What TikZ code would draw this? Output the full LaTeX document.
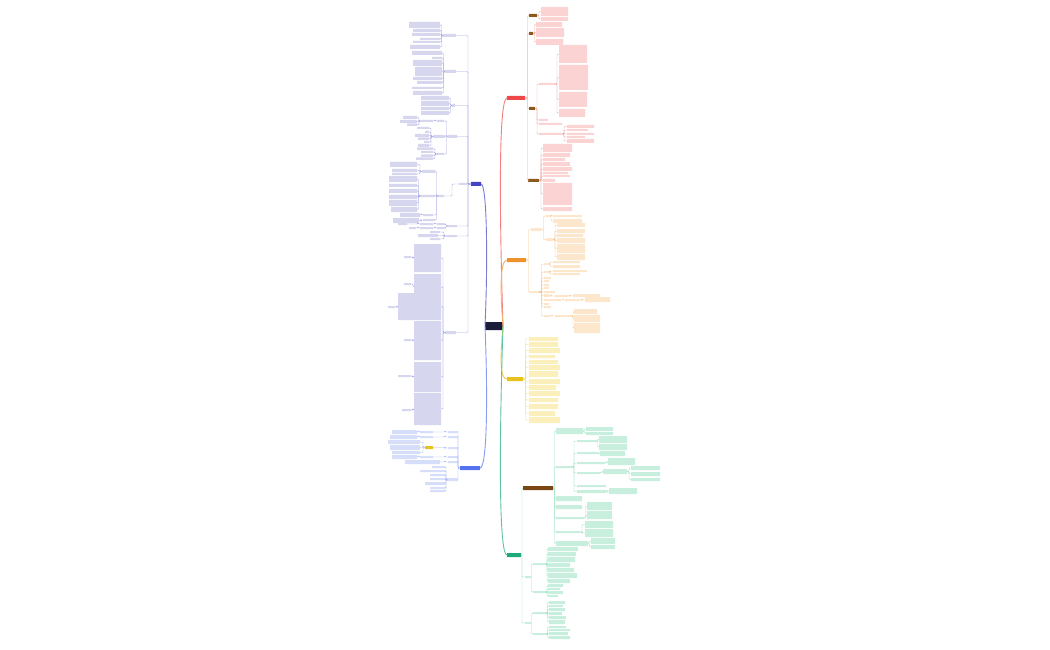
\documentclass[tikz,border=0pt]{standalone}
\usetikzlibrary{backgrounds}
\definecolor{navy}{HTML}{1B1B3A}
\definecolor{redM}{HTML}{F04848}
\definecolor{redL}{HTML}{FBD3D3}
\definecolor{redC}{HTML}{F7A8A8}
\definecolor{brn}{HTML}{8A5A1C}
\definecolor{orM}{HTML}{F0922C}
\definecolor{orL}{HTML}{FCE7CC}
\definecolor{orC}{HTML}{F6C98E}
\definecolor{yeM}{HTML}{E8C21C}
\definecolor{yeL}{HTML}{FBF0BC}
\definecolor{yeC}{HTML}{F2E28A}
\definecolor{tlM}{HTML}{1CAA78}
\definecolor{tlL}{HTML}{C8EEDD}
\definecolor{tlC}{HTML}{A0E2C6}
\definecolor{tbr}{HTML}{7A4614}
\definecolor{puM}{HTML}{4343C4}
\definecolor{puL}{HTML}{D6D6EF}
\definecolor{puC}{HTML}{A8A8E6}
\definecolor{blM}{HTML}{5472F0}
\definecolor{blL}{HTML}{D6DEFA}
\definecolor{blC}{HTML}{A8B8F4}
\tikzset{
  box/.style={rectangle,inner sep=0pt,outer sep=0pt,draw=none,rounded corners=0.4pt},
  rootbox/.style={fill=navy},
  rM/.style={fill=redM}, rL/.style={fill=redL}, bM/.style={fill=brn},
  oM/.style={fill=orM}, oL/.style={fill=orL},
  yM/.style={fill=yeM}, yL/.style={fill=yeL},
  tM/.style={fill=tlM}, tL/.style={fill=tlL}, tB/.style={fill=tbr},
  pM/.style={fill=puM}, pL/.style={fill=puL},
  qM/.style={fill=blM}, qL/.style={fill=blL}, qY/.style={fill=yeM},
  cn/.style={line width=0.45pt,rounded corners=1pt},
  rc/.style={cn,draw=redC}, oc/.style={cn,draw=orC}, yc/.style={cn,draw=yeC},
  tc/.style={cn,draw=tlC}, pc/.style={cn,draw=puC}, qc/.style={cn,draw=blC},
  mainline/.style={line width=0.9pt}
}
\newcommand\bx[6]{\pgfmathsetmacro\bxw{#5-#3}\pgfmathsetmacro\bxh{#6-#4}%
  \node[box,#1,anchor=north west,minimum width=\bxw pt,minimum height=\bxh pt] (#2) at (#3,#4) {};}
\newcommand\conR[4][2.5]{\foreach \c in {#4}{\draw[#2] (#3.east) -- ++(#1,0) |- (\c.west);}}
\newcommand\conL[4][2.5]{\foreach \c in {#4}{\draw[#2] (#3.west) -- ++(-#1,0) |- (\c.east);}}
\begin{document}
\begin{tikzpicture}[x=1pt,y=-1pt]
\useasboundingbox (0,0) rectangle (1050,650);
\fill[white] (0,0) rectangle (1050,650);
% ---------------- root
\bx{rootbox}{root}{485}{322}{503}{330}
% ---------------- RED branch
\bx{rM}{R}{507}{96}{525}{100}
\bx{bM}{R1}{529}{14}{537}{17}
\bx{bM}{R2}{529}{32}{533}{35}
\bx{bM}{R3}{529}{107}{535}{110}
\bx{bM}{R4}{528}{179}{539}{182}
\bx{rL}{R1a}{541}{7}{568}{16}
\bx{rL}{R1b}{541}{17}{568}{21}
\bx{rL}{R2a}{536}{22}{562}{27}
\bx{rL}{R2b}{536}{28}{564}{37}
\bx{rL}{R2c}{536}{39}{563}{45}
\bx{rL}{R3a}{539}{83}{555}{85}
\bx{rL}{R3b}{539}{119}{548}{121}
\bx{rL}{R3c}{539}{123}{562}{125}
\bx{rL}{R3d}{539}{133}{562}{135}
\bx{rL}{R3a1}{559}{45}{587}{63}
\bx{rL}{R3a2}{559}{65}{588}{90}
\bx{rL}{R3a3}{559}{92}{587}{107}
\bx{rL}{R3a4}{559}{109}{585}{117}
\bx{rL}{R3d1}{567}{125}{594}{128}
\bx{rL}{R3d2}{567}{129}{588}{131}
\bx{rL}{R3d3}{567}{133}{594}{135}
\bx{rL}{R3d4}{567}{136}{585}{138}
\bx{rL}{R3d5}{567}{139}{594}{143}
\bx{rL}{R4a}{543}{144}{572}{152}
\bx{rL}{R4b}{543}{153}{570}{157}
\bx{rL}{R4c}{543}{158}{565}{161}
\bx{rL}{R4d}{543}{162}{570}{166}
\bx{rL}{R4e}{543}{167}{572}{171}
\bx{rL}{R4f}{543}{172}{568}{174}
\bx{rL}{R4g}{543}{175}{570}{177}
\bx{rL}{R4h}{543}{179}{555}{182}
\bx{rL}{R4i}{543}{183}{572}{205}
\bx{rL}{R4j}{543}{207}{572}{211}
\conR{rc}{R}{R1,R2,R3,R4}
\conR[2]{rc}{R1}{R1a,R1b}
\conR[1.5]{rc}{R2}{R2a,R2b,R2c}
\conR[2]{rc}{R3}{R3a,R3b,R3c,R3d}
\conR[2]{rc}{R3a}{R3a1,R3a2,R3a3,R3a4}
\conR[2]{rc}{R3d}{R3d1,R3d2,R3d3,R3d4,R3d5}
\conR[2]{rc}{R4}{R4a,R4b,R4c,R4d,R4e,R4f,R4g,R4h,R4i,R4j}
% ---------------- ORANGE branch
\bx{oM}{O}{507}{258}{526}{262}
\bx{oL}{OA}{531}{228}{541}{231}
\bx{oL}{OB}{530}{291}{539}{293}
\bx{oL}{OA1}{546}{215}{549}{217}
\bx{oL}{OA2}{546}{238}{553}{241}
\bx{oL}{OA1a}{553}{215}{582}{217}
\bx{oL}{OA1b}{553}{219}{582}{223}
\bx{oL}{OA2a}{557}{223}{585}{227}
\bx{oL}{OA2b}{557}{229}{585}{233}
\bx{oL}{OA2c}{557}{234}{583}{237}
\bx{oL}{OA2d}{557}{238}{585}{243}
\bx{oL}{OA2e}{557}{244}{585}{253}
\bx{oL}{OA2f}{557}{254}{585}{260}
\bx{oL}{OB1}{544}{263}{548}{265}
\bx{oL}{OB2}{544}{271}{548}{273}
\bx{oL}{OB3}{544}{277}{551}{279}
\bx{oL}{OB4}{544}{280}{549}{282}
\bx{oL}{OB5}{544}{284}{549}{286}
\bx{oL}{OB6}{544}{287}{549}{289}
\bx{oL}{OB7}{544}{291}{555}{293}
\bx{oL}{OB8}{544}{294}{549}{297}
\bx{oL}{OB9}{544}{299}{561}{301}
\bx{oL}{OB10}{544}{303}{549}{305}
\bx{oL}{OB11}{544}{306}{551}{308}
\bx{oL}{OB12}{544}{315}{550}{317}
\bx{oL}{OB1a}{553}{261}{580}{263}
\bx{oL}{OB1b}{553}{265}{580}{268}
\bx{oL}{OB2a}{553}{270}{587}{272}
\bx{oL}{OB2b}{553}{273}{580}{275}
\bx{oL}{OB8a}{555}{295}{568}{297}
\bx{oL}{OB8b}{573}{294}{600}{297}
\bx{oL}{OB9a}{565}{299}{580}{301}
\bx{oL}{OB9b}{585}{297}{610}{302}
\bx{oL}{OB12a}{555}{315}{572}{317}
\bx{oL}{OB12b}{574}{309}{597}{314}
\bx{oL}{OB12c}{574}{315}{600}{322}
\bx{oL}{OB12d}{574}{323}{600}{333}
\conR{oc}{O}{OA,OB}
\conR{oc}{OA}{OA1,OA2}
\conR[2]{oc}{OA1}{OA1a,OA1b}
\conR[2]{oc}{OA2}{OA2a,OA2b,OA2c,OA2d,OA2e,OA2f}
\conR{oc}{OB}{OB1,OB2,OB3,OB4,OB5,OB6,OB7,OB8,OB9,OB10,OB11,OB12}
\conR[2]{oc}{OB1}{OB1a,OB1b}
\conR[2]{oc}{OB2}{OB2a,OB2b}
\conR[2]{oc}{OB8}{OB8a}
\conR[2]{oc}{OB8a}{OB8b}
\conR[2]{oc}{OB9}{OB9a}
\conR[2]{oc}{OB9a}{OB9b}
\conR[2]{oc}{OB12}{OB12a}
\conR[1]{oc}{OB12a}{OB12b,OB12c,OB12d}
% ---------------- YELLOW branch
\bx{yM}{Y}{507}{377}{523}{381}
\bx{yL}{Y1}{529}{337}{558}{341}
\bx{yL}{Y2}{529}{342}{558}{347}
\bx{yL}{Y3}{529}{348}{560}{353}
\bx{yL}{Y4}{529}{355}{555}{358}
\bx{yL}{Y5}{529}{360}{558}{364}
\bx{yL}{Y6}{529}{365}{560}{370}
\bx{yL}{Y7}{529}{371}{558}{377}
\bx{yL}{Y8}{529}{379}{560}{384}
\bx{yL}{Y9}{529}{385}{556}{390}
\bx{yL}{Y10}{529}{391}{560}{396}
\bx{yL}{Y11}{529}{398}{558}{402}
\bx{yL}{Y12}{529}{404}{558}{409}
\bx{yL}{Y13}{529}{411}{555}{416}
\bx{yL}{Y14}{529}{417}{560}{423}
\conR{yc}{Y}{Y1,Y2,Y3,Y4,Y5,Y6,Y7,Y8,Y9,Y10,Y11,Y12,Y13,Y14}
% ---------------- TEAL branch
\bx{tM}{T}{507}{553}{521}{557}
\bx{tB}{T1}{523}{486}{553}{490}
\bx{tL}{T2}{525}{576}{530}{578}
\bx{tL}{T3}{525}{622}{530}{624}
\bx{tL}{Ta}{556}{428}{583}{434}
\bx{tL}{Tb}{556}{466}{572}{468}
\bx{tL}{Tc}{556}{496}{582}{501}
\bx{tL}{Td}{556}{505}{582}{509}
\bx{tL}{Te}{556}{517}{584}{519}
\bx{tL}{Tf}{556}{531}{580}{533}
\bx{tL}{Tg}{556}{541}{588}{546}
\bx{tL}{Ta1}{586}{427}{613}{431}
\bx{tL}{Ta2}{586}{432}{613}{435}
\bx{tL}{Tb1}{577}{440}{596}{442}
\bx{tL}{Tb2}{577}{452}{597}{454}
\bx{tL}{Tb3}{577}{462}{605}{464}
\bx{tL}{Tb4}{577}{472}{600}{474}
\bx{tL}{Tb5}{577}{485}{606}{487}
\bx{tL}{Tb6}{577}{490}{606}{493}
\bx{tL}{Tb1a}{599}{436}{627}{443}
\bx{tL}{Tb1b}{599}{444}{627}{450}
\bx{tL}{Tb2a}{600}{451}{625}{456}
\bx{tL}{Tb3a}{608}{458}{635}{465}
\bx{tL}{Tb4a}{603}{469}{627}{474}
\bx{tL}{Tb4b}{631}{466}{660}{470}
\bx{tL}{Tb4c}{631}{472}{660}{476}
\bx{tL}{Tb4d}{631}{478}{660}{481}
\bx{tL}{Tb6a}{609}{488}{637}{494}
\bx{tL}{Te1}{587}{502}{612}{510}
\bx{tL}{Te2}{587}{511}{612}{519}
\bx{tL}{Tf1}{585}{521}{613}{528}
\bx{tL}{Tf2}{585}{529}{613}{537}
\bx{tL}{Tg1}{591}{538}{615}{544}
\bx{tL}{Tg2}{591}{545}{615}{549}
\bx{tL}{T2a}{533}{563}{546}{565}
\bx{tL}{T2b}{533}{591}{546}{593}
\bx{tL}{T2a1}{548}{547}{578}{551}
\bx{tL}{T2a2}{548}{552}{576}{556}
\bx{tL}{T2a3}{548}{557}{575}{562}
\bx{tL}{T2a4}{548}{563}{570}{567}
\bx{tL}{T2a5}{548}{568}{574}{572}
\bx{tL}{T2a6}{548}{573}{577}{578}
\bx{tL}{T2a7}{548}{579}{570}{583}
\bx{tL}{T2b1}{548}{584}{563}{587}
\bx{tL}{T2b2}{548}{588}{560}{590}
\bx{tL}{T2b3}{548}{591}{563}{594}
\bx{tL}{T2b4}{548}{595}{558}{597}
\bx{tL}{T3a}{533}{612}{546}{614}
\bx{tL}{T3b}{533}{633}{546}{635}
\bx{tL}{T3a1}{549}{601}{565}{604}
\bx{tL}{T3a2}{549}{605}{563}{607}
\bx{tL}{T3a3}{549}{608}{565}{611}
\bx{tL}{T3a4}{549}{612}{562}{615}
\bx{tL}{T3a5}{549}{616}{566}{619}
\bx{tL}{T3a6}{549}{620}{565}{624}
\bx{tL}{T3b1}{549}{626}{566}{628}
\bx{tL}{T3b2}{549}{629}{570}{631}
\bx{tL}{T3b3}{549}{632}{568}{635}
\bx{tL}{T3b4}{549}{636}{570}{639}
\conR[1]{tc}{T}{T1,T2,T3}
\conR[1.5]{tc}{T1}{Ta,Tb,Tc,Td,Te,Tf,Tg}
\conR[1.5]{tc}{Ta}{Ta1,Ta2}
\conR[2]{tc}{Tb}{Tb1,Tb2,Tb3,Tb4,Tb5,Tb6}
\conR[1.5]{tc}{Tb1}{Tb1a,Tb1b}
\conR[1.5]{tc}{Tb2}{Tb2a}
\conR[1.5]{tc}{Tb3}{Tb3a}
\conR[1.5]{tc}{Tb4}{Tb4a}
\conR[2]{tc}{Tb4a}{Tb4b,Tb4c,Tb4d}
\conR[1.5]{tc}{Tb6}{Tb6a}
\conR[1.5]{tc}{Te}{Te1,Te2}
\conR[2]{tc}{Tf}{Tf1,Tf2}
\conR[1.5]{tc}{Tg}{Tg1,Tg2}
\conR[1.5]{tc}{T2}{T2a,T2b}
\conR[1]{tc}{T2a}{T2a1,T2a2,T2a3,T2a4,T2a5,T2a6,T2a7}
\conR[1]{tc}{T2b}{T2b1,T2b2,T2b3,T2b4}
\conR[1.5]{tc}{T3}{T3a,T3b}
\conR[1.5]{tc}{T3a}{T3a1,T3a2,T3a3,T3a4,T3a5,T3a6}
\conR[1.5]{tc}{T3b}{T3b1,T3b2,T3b3,T3b4}
% ---------------- PURPLE branch (left)
\bx{pM}{P}{471}{182}{481}{186}
\bx{pL}{P1}{443}{34}{456}{37}
\bx{pL}{P2}{445}{70}{456}{73}
\bx{pL}{P3}{452}{104}{455}{107}
\bx{pL}{P4}{448}{135}{457}{138}
\bx{pL}{P5}{459}{183}{467}{185}
\bx{pL}{P6}{447}{225}{457}{227}
\bx{pL}{P7}{447}{235}{457}{237}
\bx{pL}{P8}{445}{331}{456}{334}
\bx{pL}{P1a}{409}{22}{440}{28}
\bx{pL}{P1b}{413}{29}{440}{32}
\bx{pL}{P1c}{412}{33}{440}{36}
\bx{pL}{P1d}{420}{38}{440}{40}
\bx{pL}{P1e}{413}{41}{440}{43}
\bx{pL}{P1f}{410}{45}{440}{49}
\bx{pL}{P2a}{412}{51}{442}{55}
\bx{pL}{P2b}{432}{57}{442}{59}
\bx{pL}{P2c}{413}{60}{442}{66}
\bx{pL}{P2d}{415}{67}{442}{76}
\bx{pL}{P2e}{413}{77}{442}{80}
\bx{pL}{P2f}{417}{81}{442}{84}
\bx{pL}{P2g}{412}{87}{442}{89}
\bx{pL}{P2h}{413}{91}{442}{95}
\bx{pL}{P3a}{421}{96}{449}{100}
\bx{pL}{P3b}{421}{101}{449}{106}
\bx{pL}{P3c}{421}{107}{449}{110}
\bx{pL}{P3d}{421}{111}{449}{115}
\bx{pL}{P4a}{437}{120}{444}{122}
\bx{pL}{P4b}{433}{135}{445}{138}
\bx{pL}{P4c}{437}{153}{444}{155}
\bx{pL}{P4a0}{421}{120}{433}{122}
\bx{pL}{P4a1}{403}{116}{417}{119}
\bx{pL}{P4a2}{400}{120}{417}{123}
\bx{pL}{P4a3}{407}{123.5}{417}{126}
\bx{pL}{P4b1}{417}{127}{429}{129}
\bx{pL}{P4b2}{425}{131}{429}{133}
\bx{pL}{P4b3}{415}{134}{429}{137}
\bx{pL}{P4b4}{418}{137.5}{429}{140}
\bx{pL}{P4b5}{424}{141}{429}{143}
\bx{pL}{P4b6}{418}{144}{429}{147}
\bx{pL}{P4c1}{417}{147.5}{433}{150}
\bx{pL}{P4c2}{421}{151}{433}{153}
\bx{pL}{P4c3}{421}{154.5}{433}{157}
\bx{pL}{P4c4}{416}{157.5}{433}{160}
\bx{pL}{P5a}{438}{195}{444}{197}
\bx{pL}{P5a1}{422}{170}{435}{173}
\bx{pL}{P5a2}{420}{195}{435}{197}
\bx{pL}{P5a3}{423}{214}{433}{216}
\bx{pL}{P5a4}{423}{219}{435}{221}
\bx{pL}{P5b1}{390}{162}{417}{167}
\bx{pL}{P5b2}{392}{169}{417}{172}
\bx{pL}{P5b3}{392}{173}{417}{175}
\bx{pL}{P5c1}{389}{176}{417}{182}
\bx{pL}{P5c2}{389}{184}{417}{187}
\bx{pL}{P5c3}{389}{189}{417}{193}
\bx{pL}{P5c4}{389}{195}{417}{199}
\bx{pL}{P5c5}{389}{200}{417}{206}
\bx{pL}{P5c6}{391}{207}{417}{212}
\bx{pL}{P5d1}{400}{213}{420}{217}
\bx{pL}{P5e1}{393}{218}{419}{223}
\bx{pL}{P6a}{437}{223}{445}{225}
\bx{pL}{P6b}{437}{227}{445}{229}
\bx{pL}{P6a1}{420}{223}{433}{225}
\bx{pL}{P6a2}{398}{223}{407}{225}
\bx{pL}{P6b1}{420}{227}{433}{229}
\bx{pL}{P6b2}{409}{227}{416}{229}
\bx{pL}{P7a}{430}{231}{440}{233}
\bx{pL}{P7b}{418}{234}{438}{237}
\bx{pL}{P7c}{430}{238}{440}{240}
\bx{pL}{P8a}{414}{244}{441}{272}
\bx{pL}{P8b}{414}{274}{441}{300}
\bx{pL}{P8c}{398}{293}{441}{320}
\bx{pL}{P8d}{414}{321}{441}{360}
\bx{pL}{P8e}{414}{362}{441}{392}
\bx{pL}{P8f}{414}{393}{441}{425}
\bx{pL}{P8a1}{404}{256}{411}{258}
\bx{pL}{P8b1}{404}{283}{411}{285}
\bx{pL}{P8c1}{388}{306}{395}{308}
\bx{pL}{P8d1}{404}{339}{411}{341}
\bx{pL}{P8e1}{398}{375}{411}{377}
\bx{pL}{P8f1}{402}{409}{411}{411}
\conL[3]{pc}{P}{P1,P2,P3,P4,P5,P6,P7,P8}
\conL[1.5]{pc}{P1}{P1a,P1b,P1c,P1d,P1e,P1f}
\conL[1.5]{pc}{P2}{P2a,P2b,P2c,P2d,P2e,P2f,P2g,P2h}
\conL[1.5]{pc}{P3}{P3a,P3b,P3c,P3d}
\conL[1.5]{pc}{P4}{P4a,P4b,P4c}
\conL[2]{pc}{P4a}{P4a0}
\conL[2]{pc}{P4a0}{P4a1,P4a2,P4a3}
\conL[2]{pc}{P4b}{P4b1,P4b2,P4b3,P4b4,P4b5,P4b6}
\conL[2]{pc}{P4c}{P4c1,P4c2,P4c3,P4c4}
\conL[7]{pc}{P5}{P5a}
\conL[1.5]{pc}{P5a}{P5a1,P5a2,P5a3,P5a4}
\conL[2]{pc}{P5a1}{P5b1,P5b2,P5b3}
\conL[1.5]{pc}{P5a2}{P5c1,P5c2,P5c3,P5c4,P5c5,P5c6}
\conL[1.5]{pc}{P5a3}{P5d1}
\conL[2]{pc}{P5a4}{P5e1}
\conL[1]{pc}{P6}{P6a,P6b}
\conL[2]{pc}{P6a}{P6a1}
\conL[2]{pc}{P6a1}{P6a2}
\conL[2]{pc}{P6b}{P6b1}
\conL[2]{pc}{P6b1}{P6b2}
\conL[3]{pc}{P7}{P7a,P7b,P7c}
\conL[2]{pc}{P8}{P8a,P8b,P8c,P8d,P8e,P8f}
\conL[1]{pc}{P8a}{P8a1}
\conL[1]{pc}{P8b}{P8b1}
\conL[1]{pc}{P8c}{P8c1}
\conL[1]{pc}{P8d}{P8d1}
\conL[1]{pc}{P8e}{P8e1}
\conL[1]{pc}{P8f}{P8f1}
% ---------------- BLUE branch (left)
\bx{qM}{B}{460}{466}{480}{470}
\bx{qL}{B1}{448}{431}{458}{433}
\bx{qL}{B2}{448}{436}{458}{438}
\bx{qL}{B3}{448}{447}{458}{449}
\bx{qL}{B4}{448}{456}{458}{458}
\bx{qL}{B5}{448}{461}{458}{463}
\bx{qL}{B6}{447}{478}{458}{481}
\bx{qL}{B1a}{420}{431}{433}{433}
\bx{qL}{B1b}{392}{430}{417}{434}
\bx{qL}{B2a}{420}{436}{433}{438}
\bx{qL}{B2b}{390}{435}{417}{439}
\bx{qY}{B3a}{425}{446}{433}{449}
\bx{qL}{B3b}{388}{440}{420}{444}
\bx{qL}{B3c}{390}{445}{420}{450}
\bx{qL}{B3d}{392}{451}{420}{454}
\bx{qL}{B4a}{420}{456}{433}{458}
\bx{qL}{B4b}{392}{455}{417}{459}
\bx{qL}{B5a}{405}{460}{440}{464}
\bx{qL}{B6a}{432}{466}{445}{468}
\bx{qL}{B6b}{420}{470}{445}{472}
\bx{qL}{B6c}{430}{474}{445}{476}
\bx{qL}{B6d}{430}{478}{445}{480}
\bx{qL}{B6e}{425}{482}{445}{485}
\bx{qL}{B6f}{430}{487}{445}{489}
\bx{qL}{B6g}{430}{490}{445}{492}
\conL[2]{qc}{B}{B1,B2,B3,B4,B5,B6}
\conL[3]{qc}{B1}{B1a}
\conL[1.5]{qc}{B1a}{B1b}
\conL[3]{qc}{B2}{B2a}
\conL[1.5]{qc}{B2a}{B2b}
\conL[3]{qc}{B3}{B3a}
\conL[2]{qc}{B3a}{B3b,B3c,B3d}
\conL[3]{qc}{B4}{B4a}
\conL[1.5]{qc}{B4a}{B4b}
\conL[3]{qc}{B5}{B5a}
\conL[1]{qc}{B6}{B6a,B6b,B6c,B6d,B6e,B6f,B6g}
% ---------------- main curves
\draw[mainline,draw=redM!70] (root.east) .. controls (499,200) and (499,98) .. (R.west);
\draw[mainline,draw=orM!70] (root.east) .. controls (500,290) and (500,260) .. (O.west);
\draw[mainline,draw=yeM!80] (root.east) .. controls (500,360) and (500,379) .. (Y.west);
\draw[mainline,draw=tlM!70] (root.east) .. controls (499,450) and (499,555) .. (T.west);
\draw[mainline,draw=puM!70] (root.west) .. controls (488,260) and (487,184) .. (P.east);
\draw[mainline,draw=blM!70] (root.west) .. controls (488,400) and (487,468) .. (B.east);
\end{tikzpicture}
\end{document}
